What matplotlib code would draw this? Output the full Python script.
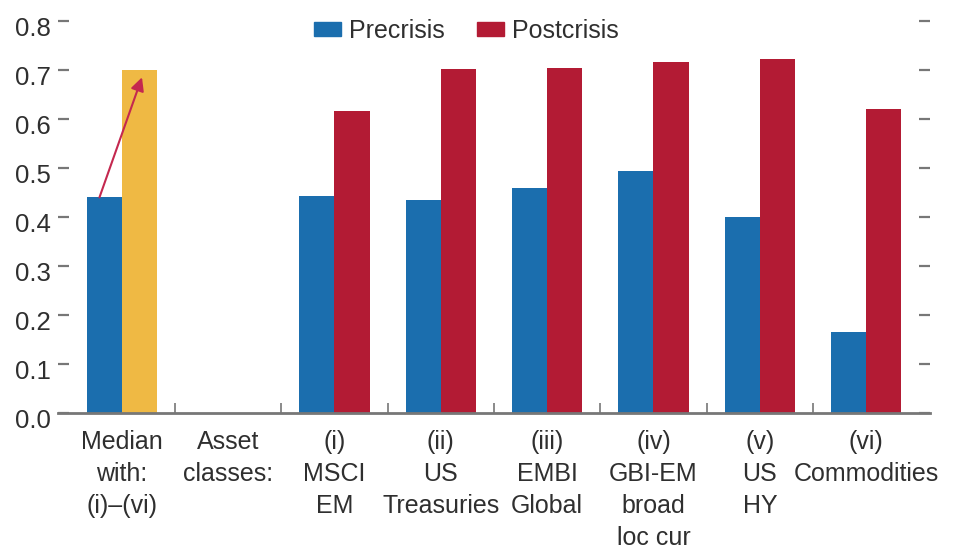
import numpy as np
import matplotlib
matplotlib.use("Agg")
import matplotlib.pyplot as plt
from matplotlib.patches import Patch
from matplotlib.transforms import ScaledTranslation

# ========== Data ==========
categories = [
    "Median\nwith:\n(i)\u2013(vi)",
    "Asset\nclasses:",
    "(i)\nMSCI\nEM",
    "(ii)\nUS\nTreasuries",
    "(iii)\nEMBI\nGlobal",
    "(iv)\nGBI-EM\nbroad\nloc cur",
    "(v)\nUS\nHY",
    "(vi)\nCommodities",
]
precrisis = [0.44, np.nan, 0.443, 0.435, 0.459, 0.493, 0.399, 0.165]
postcrisis = [0.70, np.nan, 0.616, 0.702, 0.705, 0.717, 0.722, 0.62]
yticks = [0.0, 0.1, 0.2, 0.3, 0.4, 0.5, 0.6, 0.7, 0.8]

BLUE = "#1b6eae"
RED = "#b31b34"
YELLOW = "#efb944"
GRAY = "#777777"
TEXT = "#2f2f2f"

plt.rcParams["font.family"] = ["Liberation Sans", "DejaVu Sans"]
plt.rcParams["text.color"] = TEXT

fig = plt.figure(figsize=(9.55, 5.52), dpi=100)
ax = fig.add_axes([0.0607, 0.2518, 0.9131, 0.7102])

x = np.arange(len(categories))
w = 0.33
post_colors = [YELLOW] + [RED] * (len(categories) - 1)

ax.bar(x - w / 2, precrisis, width=w, color=BLUE, linewidth=0)
ax.bar(x + w / 2, postcrisis, width=w, color=post_colors, linewidth=0)

# arrow from the precrisis median up to the postcrisis median
ax.annotate(
    "",
    xy=(x[0] + 0.19, postcrisis[0] - 0.015),
    xytext=(x[0] - 0.21, precrisis[0]),
    arrowprops=dict(arrowstyle="-|>", color="#c4284f", lw=1.5,
                    mutation_scale=20, shrinkA=0, shrinkB=0),
)

ax.set_xlim(-0.6, len(categories) - 0.4)
ax.set_ylim(0, 0.8)

for s in ["top", "left", "right"]:
    ax.spines[s].set_visible(False)
ax.spines["bottom"].set_color(GRAY)
ax.spines["bottom"].set_linewidth(2)

ax.set_yticks(yticks)
ax.set_yticklabels([f"{v:.1f}" for v in yticks], fontsize=18.5, color=TEXT)
ax.tick_params(axis="y", direction="in", left=True, right=True,
               labelright=False, length=8, width=1.6, color=GRAY, pad=5)
shift = ScaledTranslation(0, -4 / 72, fig.dpi_scale_trans)
for lab in ax.get_yticklabels():
    lab.set_transform(lab.get_transform() + shift)

ax.set_xticks(x)
ax.set_xticklabels(categories, fontsize=18, color=TEXT, linespacing=1.42)
ax.tick_params(axis="x", which="major", length=0, pad=12)
ax.set_xticks(x[:-1] + 0.5, minor=True)
ax.tick_params(axis="x", which="minor", direction="in", length=7,
               width=1.2, color=GRAY)

handles = [Patch(color=BLUE, label="Precrisis"),
           Patch(color=RED, label="Postcrisis")]
fig.legend(handles=handles, loc="center", bbox_to_anchor=(0.488, 0.944),
           ncol=2, frameon=False, fontsize=18, handlelength=1.1,
           handleheight=0.45, handletextpad=0.3, columnspacing=1.3)

fig.savefig("out.png", dpi=100)
